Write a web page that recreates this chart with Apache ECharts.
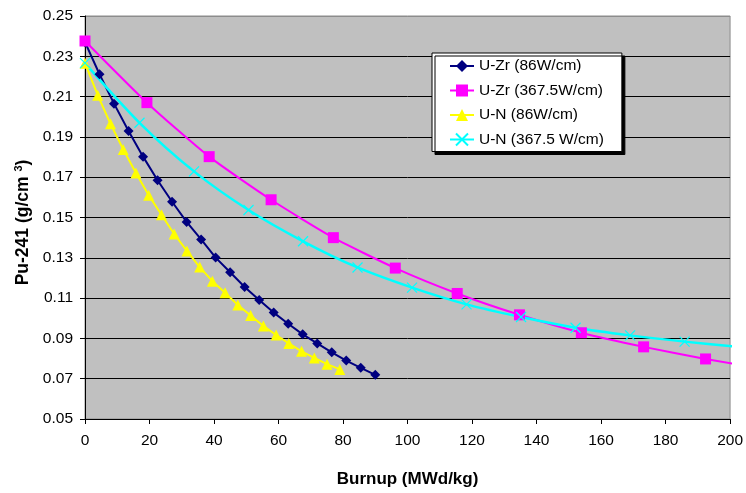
<!DOCTYPE html>
<html>
<head>
<meta charset="utf-8">
<script src="https://cdn.jsdelivr.net/npm/echarts@6/dist/echarts.min.js"></script>
<style>html,body{margin:0;padding:0;background:#fff}#c{width:746px;height:493px}</style>
</head>
<body>
<div id="c"></div>
<script>
// Series names
const names = ['U-Zr (86W/cm)', 'U-Zr (367.5W/cm)', 'U-N (86W/cm)', 'U-N (367.5 W/cm)'];

// U-Zr (86W/cm)
const uzr86X = [0, 4.5, 9, 13.5, 18, 22.5, 27, 31.5, 36, 40.5, 45, 49.5, 54, 58.5, 63, 67.5, 72, 76.5, 81, 85.5, 90];
const uzr86Y = [0.237, 0.2211, 0.2065, 0.1929, 0.1802, 0.1685, 0.1578, 0.1478, 0.1391, 0.1301, 0.1228, 0.1155, 0.1090, 0.1028, 0.0973, 0.0920, 0.0875, 0.0831, 0.0790, 0.0754, 0.0719];

// U-Zr (367.5W/cm)
const uzr367X = [0, 19.2, 38.5, 57.7, 77, 96.2, 115.4, 134.7, 153.9, 173.2, 192.4, 211.6];
const uzr367Y = [0.2376, 0.2070, 0.1802, 0.1588, 0.1400, 0.1249, 0.1123, 0.1017, 0.0928, 0.0858, 0.0798, 0.0745];

// U-N (86W/cm)
const un86X = [0, 3.95, 7.9, 11.85, 15.8, 19.75, 23.7, 27.65, 31.6, 35.55, 39.5, 43.45, 47.4, 51.35, 55.3, 59.25, 63.2, 67.15, 71.1, 75.05, 79];
const un86Y = [0.2266, 0.2107, 0.1965, 0.1838, 0.1721, 0.1611, 0.1514, 0.1418, 0.1334, 0.1254, 0.1184, 0.1126, 0.1066, 0.1014, 0.0962, 0.0917, 0.0875, 0.0836, 0.0803, 0.0772, 0.0746];

// U-N (367.5 W/cm)
const un367X = [0, 16.9, 33.8, 50.7, 67.6, 84.5, 101.4, 118.3, 135.2, 152.1, 169, 185.9, 202.8];
const un367Y = [0.2266, 0.1970, 0.1729, 0.1537, 0.1382, 0.1252, 0.1152, 0.1069, 0.1006, 0.0953, 0.0915, 0.0884, 0.0858];

// Axis ticks
const xTicks = [0, 20, 40, 60, 80, 100, 120, 140, 160, 180, 200];
const yTicks = [0.05, 0.07, 0.09, 0.11, 0.13, 0.15, 0.17, 0.19, 0.21, 0.23, 0.25];

function pairs(xs, ys) { return xs.map((x, i) => [x, ys[i]]); }

const chart = echarts.init(document.getElementById('c'), null, {renderer: 'canvas'});
const FONT = 'Liberation Sans, Arial, sans-serif';
const splitColors = yTicks.map((v, i) => i === yTicks.length - 1 ? '#8c8c8c' : '#000000');

chart.setOption({
  animation: false,
  backgroundColor: '#ffffff',
  textStyle: {fontFamily: FONT},
  grid: {
    left: 85, right: 15, top: 16, bottom: 66,
    show: true, backgroundColor: '#c0c0c0', borderColor: '#8c8c8c', borderWidth: 1
  },
  legend: {
    orient: 'vertical',
    left: 432, top: 53,
    padding: [5, 18, 4, 17],
    itemGap: 8.5,
    itemWidth: 24, itemHeight: 15,
    backgroundColor: '#ffffff',
    borderColor: '#000000', borderWidth: 1,
    shadowColor: '#000000', shadowBlur: 0, shadowOffsetX: 3, shadowOffsetY: 3,
    textStyle: {fontSize: 15.5, color: '#000', fontFamily: FONT},
    data: names
  },
  xAxis: {
    type: 'value',
    min: xTicks[0], max: xTicks[xTicks.length - 1], interval: 20,
    name: 'Burnup (MWd/kg)',
    nameLocation: 'middle', nameGap: 52,
    nameTextStyle: {fontSize: 17, fontWeight: 'bold', color: '#000', fontFamily: FONT},
    axisLine: {show: true, lineStyle: {color: '#000', width: 1}},
    axisTick: {show: true, inside: false, length: 5, lineStyle: {color: '#000'}},
    axisLabel: {fontSize: 15.5, color: '#000', margin: 14, fontFamily: FONT},
    splitLine: {show: false}
  },
  yAxis: {
    type: 'value',
    min: yTicks[0], max: yTicks[yTicks.length - 1], interval: 0.02,
    name: 'Pu-241 (g/cm {sup|3})',
    nameLocation: 'middle', nameGap: 52, nameRotate: 90,
    nameTextStyle: {
      fontSize: 17.5, fontWeight: 'bold', color: '#000', fontFamily: FONT,
      padding: [0, 10, 0, 0],
      rich: {sup: {fontSize: 11, fontWeight: 'bold', color: '#000', verticalAlign: 'top', padding: [0, 0, 8, 0], fontFamily: FONT}}
    },
    axisLine: {show: true, lineStyle: {color: '#000', width: 1}},
    axisTick: {show: true, inside: false, length: 5, lineStyle: {color: '#000'}},
    axisLabel: {fontSize: 15.5, color: '#000', margin: 12, fontFamily: FONT,
      formatter: v => (Math.round(v * 100) / 100).toFixed(2)},
    splitLine: {show: true, lineStyle: {color: splitColors, width: 1}}
  },
  series: [
    {
      name: names[0], type: 'line', data: pairs(uzr86X, uzr86Y),
      symbol: 'diamond', symbolSize: 10, clip: true,
      lineStyle: {color: '#000080', width: 2},
      itemStyle: {color: '#000080'}
    },
    {
      name: names[1], type: 'line', data: pairs(uzr367X, uzr367Y),
      symbol: 'rect', symbolSize: 11, clip: true, smooth: 0.2,
      lineStyle: {color: '#ff00ff', width: 2},
      itemStyle: {color: '#ff00ff'}
    },
    {
      name: names[2], type: 'line', data: pairs(un86X, un86Y),
      symbol: 'triangle', symbolSize: 11, clip: true,
      lineStyle: {color: '#ffff00', width: 2},
      itemStyle: {color: '#ffff00'}
    },
    {
      name: names[3], type: 'line', data: pairs(un367X, un367Y),
      symbol: 'path://M0,0L10,10M10,0L0,10', symbolSize: 10, clip: true, smooth: 0.3,
      lineStyle: {color: '#00ffff', width: 2.5},
      itemStyle: {color: '#00ffff', borderColor: '#00ffff', borderWidth: 1.2}
    }
  ]
});
</script>
</body>
</html>
